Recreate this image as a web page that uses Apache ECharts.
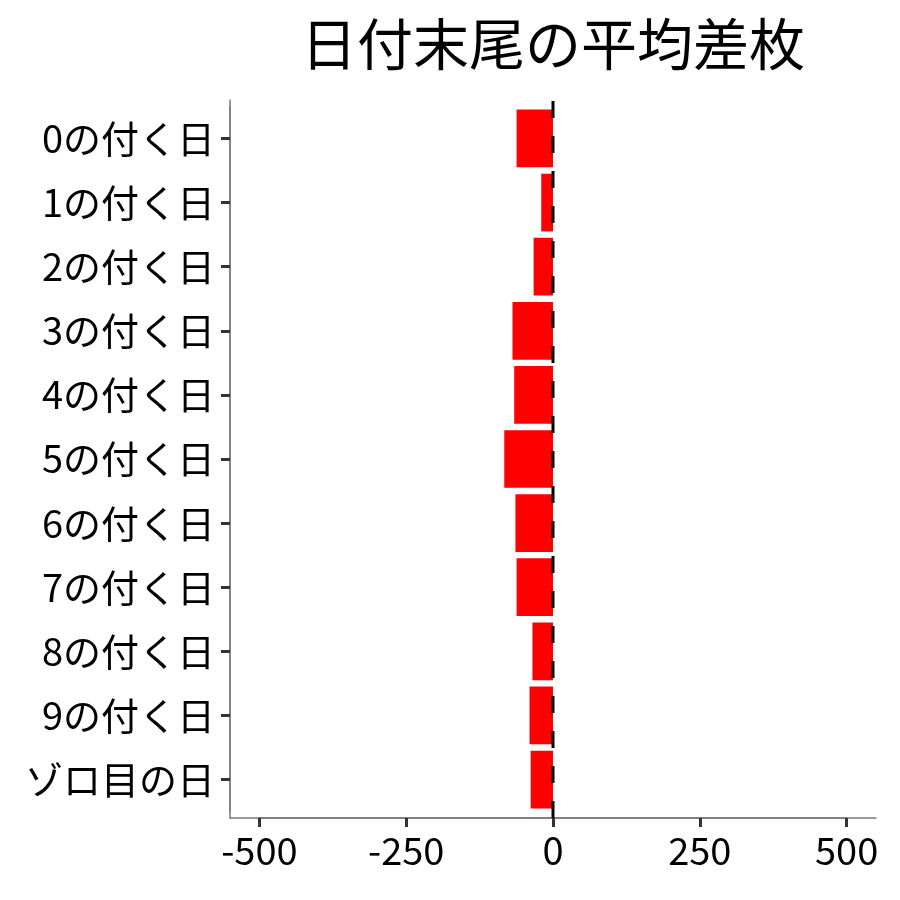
<!DOCTYPE html>
<html>
<head>
<meta charset="utf-8">
<script src="https://cdn.jsdelivr.net/npm/echarts@6/dist/echarts.min.js"></script>
<style>
html,body{margin:0;padding:0;background:#fff;}
#chart{width:900px;height:900px;}
</style>
</head>
<body>
<div id="chart"></div>
<script>
const titleText = '日付末尾の平均差枚';
const categories = ['0の付く日','1の付く日','2の付く日','3の付く日','4の付く日','5の付く日','6の付く日','7の付く日','8の付く日','9の付く日','ゾロ目の日'];
const values = [-62, -20, -33, -69, -66, -83, -64, -62, -35, -40, -38];
const xTickLabels = ['-500', '-250', '0', '250', '500'];
const xTickMin = -500, xTickMax = 500;
const xMin = -550, xMax = 550;
const refLineX = 0;

const FONT = '"Noto Sans CJK JP", "Noto Sans", sans-serif';
const AXIS_GRAY = '#7a7a7a';
const TICK_GRAY = '#333333';
const panelLeft = 230, panelRight = 24, panelTop = 100, panelBottom = 82;
const panelW = 900 - panelLeft - panelRight;
const panelH = 900 - panelTop - panelBottom;
const band = panelH / (categories.length - 1 + 1.2);
const pad = band * 0.1;
const xPx = panelW / (xMax - xMin);
const xPadL = (xTickMin - xMin) * xPx;
const xPadR = (xMax - xTickMax) * xPx;

const chart = echarts.init(document.getElementById('chart'), null, {renderer: 'canvas'});
chart.setOption({
  animation: false,
  backgroundColor: '#ffffff',
  textStyle: {fontFamily: FONT},
  graphic: [{
    type: 'text',
    x: panelLeft + panelW / 2,
    y: 44,
    style: {
      text: titleText,
      font: '56px ' + FONT,
      fill: '#000',
      textAlign: 'center',
      textVerticalAlign: 'middle'
    }
  }],
  grid: [
    {left: panelLeft, right: panelRight, top: panelTop + pad, bottom: panelBottom + pad, containLabel: false},
    {left: panelLeft, right: panelRight, top: panelTop, bottom: panelBottom, containLabel: false},
    {left: panelLeft + xPadL, right: panelRight + xPadR, top: panelTop, bottom: panelBottom, containLabel: false}
  ],
  xAxis: [
    {gridIndex: 0, type: 'value', min: xMin, max: xMax, show: false},
    {
      gridIndex: 1, type: 'value', min: xMin, max: xMax,
      axisLine: {show: true, onZero: false, lineStyle: {color: AXIS_GRAY, width: 1.5}},
      axisTick: {show: false}, axisLabel: {show: false}, splitLine: {show: false}
    },
    {
      gridIndex: 2, type: 'category', data: xTickLabels, boundaryGap: false,
      axisLine: {show: true, onZero: false, lineStyle: {color: AXIS_GRAY, width: 1.5}},
      axisTick: {show: true, interval: 0, length: 9, lineStyle: {color: TICK_GRAY, width: 3}},
      axisLabel: {show: true, interval: 0, fontSize: 38, color: '#000', margin: 14, fontFamily: FONT},
      splitLine: {show: false}
    }
  ],
  yAxis: [
    {
      gridIndex: 0, type: 'category', data: categories, inverse: true,
      axisLine: {show: true, onZero: false, lineStyle: {color: AXIS_GRAY, width: 1.5}},
      axisTick: {show: true, alignWithLabel: true, length: 9, lineStyle: {color: TICK_GRAY, width: 3}},
      axisLabel: {fontSize: 38, color: '#000', margin: 15, fontFamily: FONT},
      splitLine: {show: false}
    },
    {
      gridIndex: 1, type: 'value', min: 0, max: 1,
      axisLine: {show: true, onZero: false, lineStyle: {color: AXIS_GRAY, width: 1.5}},
      axisTick: {show: false}, axisLabel: {show: false}, splitLine: {show: false}
    },
    {
      gridIndex: 2, type: 'value', min: 0, max: 1, show: false
    }
  ],
  series: [
    {
      type: 'bar', xAxisIndex: 0, yAxisIndex: 0,
      data: values, barWidth: '90%',
      itemStyle: {color: '#ff0000'},
      z: 2
    },
    {
      type: 'line', xAxisIndex: 1, yAxisIndex: 1,
      data: [[refLineX, 0], [refLineX, 1]],
      symbol: 'none',
      lineStyle: {color: '#000', width: 3, type: [17, 18]},
      z: 5
    }
  ]
});
</script>
</body>
</html>
